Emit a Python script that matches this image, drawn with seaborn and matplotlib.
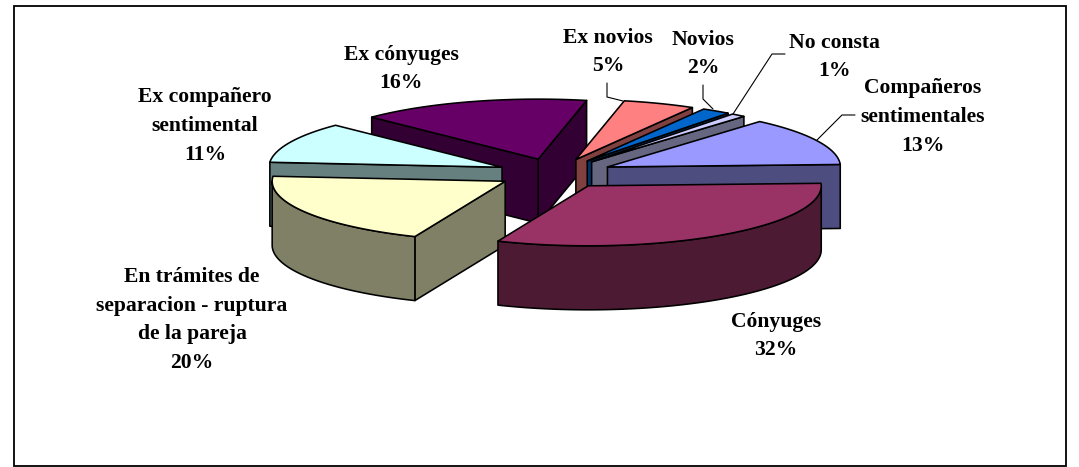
import numpy as np
import matplotlib
matplotlib.use("Agg")
import matplotlib.pyplot as plt
from matplotlib.patches import Polygon, Rectangle
from matplotlib.colors import to_rgb
import seaborn as sns

# ---- data -----------------------------------------------------------
categories = ["Compañeros sentimentales", "Cónyuges",
              "En trámites de separacion - ruptura de la pareja",
              "Ex compañero sentimental", "Ex cónyuges", "Ex novios",
              "Novios", "No consta"]
values = [13, 32, 20, 11, 16, 5, 2, 1]
label_lines = ["Compañeros\nsentimentales\n13%", "Cónyuges\n32%",
               "En trámites de\nseparacion - ruptura\nde la pareja\n20%",
               "Ex compañero\nsentimental\n11%", "Ex cónyuges\n16%",
               "Ex novios\n5%", "Novios\n2%", "No consta\n1%"]
top_colors = ["#9999FF", "#993366", "#FFFFCC", "#CCFFFF",
              "#660066", "#FF8080", "#0066CC", "#CCCCFF"]

# ---- layout / style --------------------------------------------------
W, H = 1079, 467
CX, CY = 555, 173.5
RX, RY_BACK, RY_FRONT = 233, 60, 60
DEPTH = 64
EXPLODE = 0.25
ROTATION = 2.4
LW = 1.15
label_pos = [(923, 117), (776, 336), (192, 320), (205, 126),
             (401, 69), (608, 52), (703, 54), (834, 57)]
leaders = [[(855, 115), (842, 115), (817, 140)],
           [(607, 83), (607, 97), (623, 101)],
           [(703, 85), (703, 99), (713, 109)],
           [(785, 54), (772, 54), (733, 114)]]

sns.set_theme(style="white")
plt.rcParams["font.family"] = ["Liberation Serif", "DejaVu Serif"]
palette = sns.color_palette(top_colors)

fig, ax = plt.subplots(figsize=(W / 100, H / 100), dpi=100)
ax.set_position([0, 0, 1, 1])
ax.set_xlim(0, W)
ax.set_ylim(H, 0)
ax.axis("off")
ax.add_patch(Rectangle((13.5, 5.5), 1052.5, 460.5, fc="white", ec="black",
                       lw=1.3, zorder=0))


def project(deg, r=1.0):
    t = np.radians(deg)
    s = np.sin(t)
    ry = np.where(s >= 0, RY_BACK, RY_FRONT)
    return r * RX * np.cos(t), -r * ry * s


fractions = np.array(values, float) / sum(values)
# Slices run clockwise from the end of the first one
first = ROTATION + 360 * fractions[0]
ends = first - 360 * np.concatenate([[0], np.cumsum(fractions)])
spans = [(ends[i + 1], ends[i]) for i in range(len(values))]

mids = [0.5 * (a + b) for a, b in spans]
order = np.argsort([-np.sin(np.radians(m)) for m in mids])

z = 1
for i in order:
    t0, t1 = spans[i]
    ex, ey = project(mids[i], EXPLODE)
    ox, oy = CX + ex, CY + ey
    top = palette[i]
    side = tuple(c * 0.5 for c in to_rgb(top))
    style = dict(fc=side, ec="black", lw=LW, joinstyle="round")

    # radial walls facing the viewer
    for ang, vis in ((t0, np.cos(np.radians(t0)) > 0),
                     (t1, np.cos(np.radians(t1)) < 0)):
        if vis:
            rx, ry = project(ang)
            pts = [(ox, oy), (ox + rx, oy + ry),
                   (ox + rx, oy + ry + DEPTH), (ox, oy + DEPTH)]
            ax.add_patch(Polygon(pts, closed=True, zorder=z, **style))
            z += 1

    # curved outer wall (front half of the rim only)
    for k in (-1, 0, 1):
        lo = max(t0, 180 + 360 * k)
        hi = min(t1, 360 + 360 * k)
        if hi > lo:
            th = np.linspace(lo, hi, 80)
            xs, ys = project(th)
            xs, ys = ox + xs, oy + ys
            pts = np.column_stack([np.r_[xs, xs[::-1]],
                                   np.r_[ys, ys[::-1] + DEPTH]])
            ax.add_patch(Polygon(pts, closed=True, zorder=z, **style))
            z += 1

    # top face
    th = np.linspace(t0, t1, 100)
    xs, ys = project(th)
    pts = np.column_stack([np.r_[ox, ox + xs], np.r_[oy, oy + ys]])
    ax.add_patch(Polygon(pts, closed=True, fc=top, ec="black", lw=LW,
                         joinstyle="round", zorder=z))
    z += 1

for path in leaders:
    xs, ys = zip(*path)
    ax.plot(xs, ys, color="black", lw=0.8, zorder=z)

for txt, (x, y) in zip(label_lines, label_pos):
    ax.text(x, y, txt, ha="center", va="center", fontsize=15.6,
            fontweight="bold", color="black", linespacing=1.58, zorder=z + 1)

fig.savefig("out.png", dpi=100, facecolor="white")
